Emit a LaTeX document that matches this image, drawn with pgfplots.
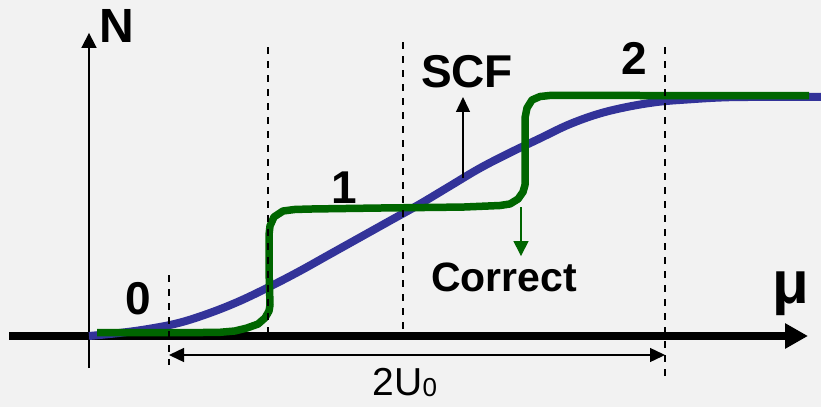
\documentclass[border=0pt]{standalone}
\usepackage{pgfplots}
\pgfplotsset{compat=1.18}
\usepackage{fontspec}
\setmainfont{Liberation Sans}
\usetikzlibrary{arrows.meta}
\definecolor{bgcol}{HTML}{F2F2F2}
\definecolor{scfblue}{HTML}{333399}
\definecolor{exgreen}{HTML}{006600}

\begin{document}
\begin{tikzpicture}
\fill[bgcol] (0,0) rectangle (821bp,407bp);
\begin{axis}[
  at={(0,0)}, anchor=south west,
  width=821bp, height=407bp, scale only axis,
  xmin=-89, xmax=732, ymin=-0.5941, ymax=2.8117,
  hide axis, clip=false,
]
% mu axis and N axis
\draw[line width=8bp, -{Triangle[length=23bp,width=24bp]}] (-80,0) -- (719,0);
\draw[line width=1.8bp, -{Triangle[length=15bp,width=15bp]}] (0,-0.268) -- (0,2.536);

% SCF occupation: smooth crossover
\addplot[scfblue, line width=8bp, line cap=butt, smooth, tension=0.6] coordinates {
 (0,0.00) (30,0.025) (60,0.06) (90,0.11) (120,0.19) (150,0.29) (180,0.41)
 (210,0.54) (240,0.68) (270,0.82) (300,0.96) (330,1.10) (360,1.25) (390,1.40)
 (420,1.53) (450,1.65) (480,1.77) (510,1.86) (540,1.92) (570,1.96) (600,1.98)
 (630,1.995) (660,2.00) (732,2.00)
};

% exact occupation: staircase
\addplot[exgreen, line width=7.5bp, line cap=butt, line join=round] coordinates {
 (8,0.028) (61,0.028) (111,0.029) (131,0.031) (146,0.042) (158,0.067)
 (169,0.100) (176,0.151) (180,0.209) (181,0.259) (180,0.552) (180,0.845)
 (181,0.921) (185,0.996) (194,1.046) (206,1.059) (224,1.063) (291,1.071)
 (374,1.079) (411,1.092) (421,1.105) (429,1.146) (434,1.205) (436,1.264)
 (436,1.556) (436,1.824) (438,1.908) (443,1.975) (451,2.004) (461,2.013)
 (531,2.013) (611,2.011) (720,2.011)
};

% integer-occupation guides
\pgfplotsset{guide/.style={black, line width=2bp, dash pattern=on 7bp off 7bp}}
\addplot[guide] coordinates {(80,0.510) (80,-0.243)};
\addplot[guide] coordinates {(179,2.418) (179,0.008)};
\addplot[guide] coordinates {(314,2.460) (314,0.050)};
\addplot[guide] coordinates {(576,2.418) (576,-0.343)};

% gap width
\draw[line width=1.4bp, {Triangle[length=15bp,width=14bp]}-{Triangle[length=15bp,width=14bp]}]
  (80,-0.159) -- (576,-0.159);

% deviation arrows
\draw[line width=1.4bp, -{Triangle[length=15bp,width=14bp]}] (374,1.322) -- (374,2.0);
\draw[exgreen, line width=1.4bp, -{Triangle[length=15bp,width=15bp]}] (432,1.079) -- (432,0.669);

% labels
\node[inner sep=0pt, font=\fontsize{48bp}{52bp}\selectfont\bfseries] at (28,2.594) {N};
\node[inner sep=0pt, font=\fontsize{46bp}{50bp}\selectfont\bfseries] at (49,0.310) {0};
\node[inner sep=0pt, font=\fontsize{46bp}{50bp}\selectfont\bfseries] at (255,1.238) {1};
\node[inner sep=0pt, font=\fontsize{46bp}{50bp}\selectfont\bfseries] at (545,2.326) {2};
\node[inner sep=0pt, font=\fontsize{46bp}{50bp}\selectfont\bfseries] at (378,2.209) {SCF};
\node[inner sep=0pt, font=\fontsize{41bp}{45bp}\selectfont\bfseries] at (415,0.494) {Correct};
\node[inner sep=0pt, anchor=base, font=\fontsize{60bp}{64bp}\selectfont\bfseries] at (702,0.276) {μ};
\node[inner sep=0pt, anchor=base, font=\fontsize{39bp}{43bp}\selectfont] at (316,-0.494)
  {2U\raisebox{-1bp}{\fontsize{26bp}{28bp}\selectfont 0}};
\end{axis}
\pgfresetboundingbox
\useasboundingbox (0,0) rectangle (821bp,407bp);
\end{tikzpicture}
\end{document}
